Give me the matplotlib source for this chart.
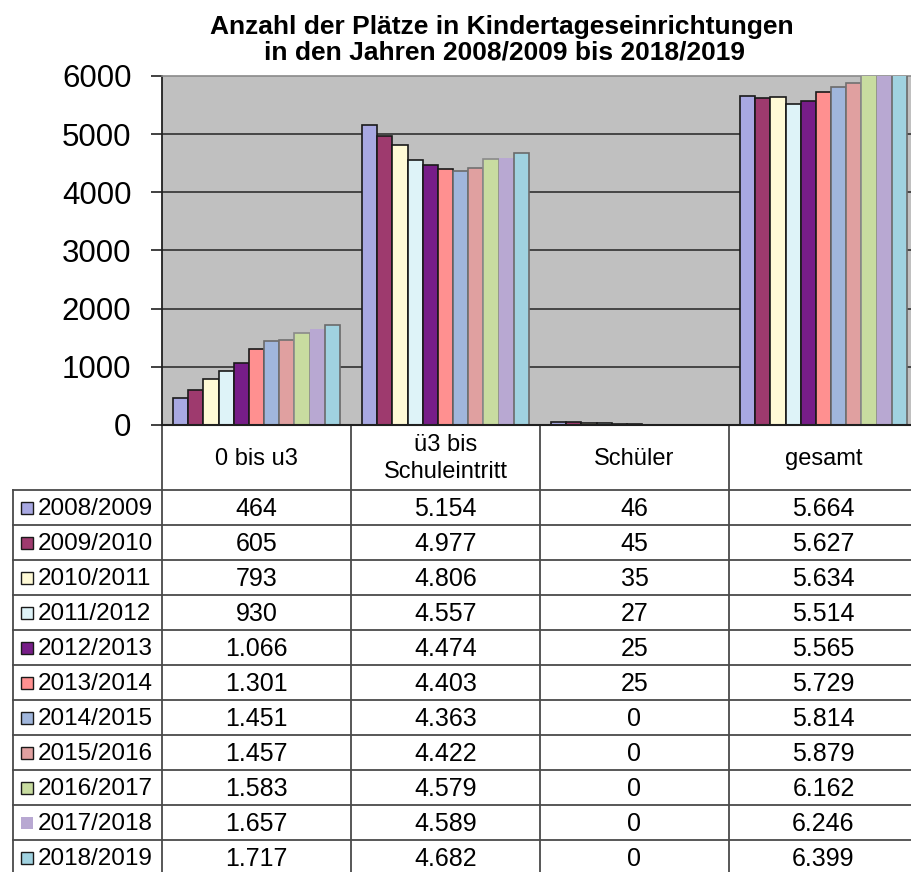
import matplotlib.pyplot as plt
from matplotlib.patches import Rectangle

plt.rcParams['font.family'] = ['Liberation Sans', 'DejaVu Sans']

years = ["2008/2009", "2009/2010", "2010/2011", "2011/2012", "2012/2013", "2013/2014",
         "2014/2015", "2015/2016", "2016/2017", "2017/2018", "2018/2019"]
categories = ["0 bis u3", "ü3 bis\nSchuleintritt", "Schüler", "gesamt"]

u3 = [464, 605, 793, 930, 1066, 1301, 1451, 1457, 1583, 1657, 1717]
ue3 = [5154, 4977, 4806, 4557, 4474, 4403, 4363, 4422, 4579, 4589, 4682]
schueler = [46, 45, 35, 27, 25, 25, 0, 0, 0, 0, 0]
gesamt = [5664, 5627, 5634, 5514, 5565, 5729, 5814, 5879, 6162, 6246, 6399]

colors = ["#a8a8e2", "#9e3a6e", "#fffad6", "#def3f8", "#771d88", "#ff9090",
          "#a0b6dc", "#e0a0a0", "#c8dca0", "#b8a8d2", "#a0d2e0"]
edges = ["#1a1a1a"] * 6 + ["#6a6a6a", "#707070", "#8a8a8a", "none", "#6a6a6a"]

W, H = 912, 872
fig = plt.figure(figsize=(W / 100, H / 100), dpi=100)

# chart area (in pixels of the picture); the right edge runs off the picture
x_left, x_right, y_top, y_bot = 162, 918, 76, 425
ax = fig.add_axes([x_left / W, 1 - y_bot / H, (x_right - x_left) / W, (y_bot - y_top) / H])
ax.set_facecolor("#c0c0c0")

values = list(zip(u3, ue3, schueler, gesamt))
n = len(years)
bw = 0.0804
for i, yr in enumerate(years):
    xs = [c - bw * n / 2 + bw * (i + 0.5) for c in range(len(categories))]
    ax.bar(xs, values[i], width=bw, color=colors[i], edgecolor=edges[i],
           linewidth=1.2, zorder=3, label=yr)

ax.set_xlim(-0.5, len(categories) - 0.5)
ax.set_ylim(0, 6000)
ax.set_yticks(range(0, 6001, 1000))
ax.tick_params(axis="y", labelsize=22.5, length=8, width=1.2, pad=14, color="#202020")
ax.set_xticks([])
for y in range(1000, 6000, 1000):
    ax.axhline(y, color="#3c3c3c", linewidth=1.3, zorder=1)
ax.spines["right"].set_visible(False)
ax.spines["top"].set_color("#8a8a8a")
ax.spines["top"].set_linewidth(1.2)
ax.spines["left"].set_color("#202020")
ax.spines["left"].set_linewidth(1.3)
ax.spines["bottom"].set_color("#202020")
ax.spines["bottom"].set_linewidth(1.5)
ax.spines["bottom"].set_zorder(4)

fig.text(502 / W, 1 - 27 / H, "Anzahl der Plätze in Kindertageseinrichtungen",
         ha="center", va="center", fontsize=19, fontweight="bold")
fig.text(505 / W, 1 - 52 / H, "in den Jahren 2008/2009 bis 2018/2019",
         ha="center", va="center", fontsize=19, fontweight="bold")

# data table below the chart
tab = fig.add_axes([0, 0, 1, 1], zorder=-1)
tab.set_xlim(0, W)
tab.set_ylim(H, 0)
tab.axis("off")

col_w = (x_right - x_left) / len(categories)
col_edges = [x_left + col_w * k for k in range(len(categories) + 1)]
head_bot = 490
row_h = 35
lab_left = 13
line_c = "#4a4a4a"

for k, xe in enumerate(col_edges):
    tab.plot([xe, xe], [y_bot, H + 5], color=line_c, linewidth=1.3)
tab.plot([lab_left, lab_left], [head_bot, H + 5], color=line_c, linewidth=1.3)
for r in range(n + 1):
    yy = head_bot + r * row_h
    tab.plot([lab_left, W + 10], [yy, yy], color=line_c, linewidth=1.3)

for k, cat in enumerate(categories):
    xc = col_edges[k] + col_w / 2
    tab.text(xc, (y_bot + head_bot) / 2 + 1, cat, ha="center", va="center",
             fontsize=17, linespacing=1.25)


def de_fmt(v):
    return f"{v:,}".replace(",", ".")


for i, yr in enumerate(years):
    yc = head_bot + row_h * (i + 0.5)
    tab.add_patch(Rectangle((21, yc - 6), 12, 12, facecolor=colors[i],
                            edgecolor="#1a1a1a" if edges[i] != "none" else "none",
                            linewidth=1.0))
    tab.text(38, yc + 1, yr, ha="left", va="center", fontsize=17.5)
    for k, v in enumerate(values[i]):
        xc = col_edges[k] + col_w / 2
        tab.text(xc, yc + 1, de_fmt(v), ha="center", va="center", fontsize=18)

fig.savefig("out.png", dpi=100)
